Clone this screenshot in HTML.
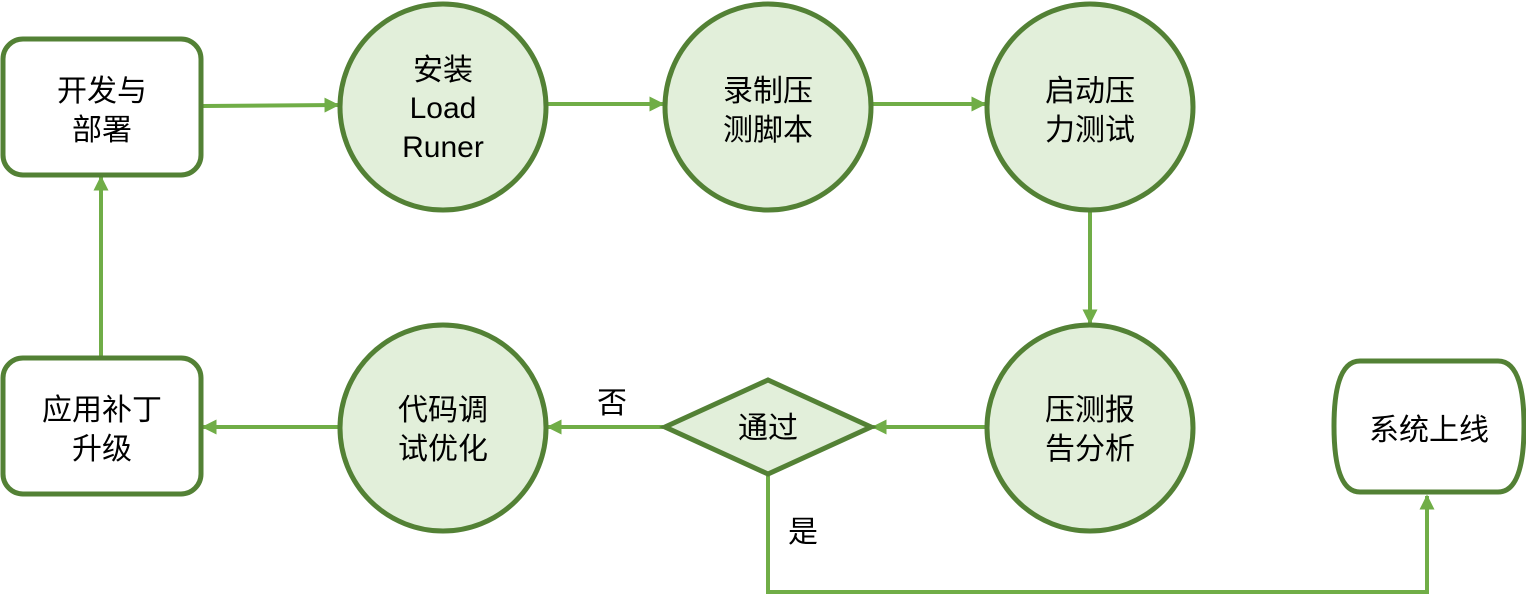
<!DOCTYPE html>
<html><head><meta charset="utf-8"><style>
html,body{margin:0;padding:0;background:#fff;}
text{font-family:"Liberation Sans","Noto Sans CJK SC",sans-serif;font-size:30px;fill:#000;}
</style></head><body>
<svg width="1526" height="596" viewBox="0 0 1526 596" xmlns="http://www.w3.org/2000/svg">
<defs>
<marker id="a" markerWidth="15" markerHeight="15" refX="9" refY="5" orient="auto" markerUnits="userSpaceOnUse" viewBox="0 0 10 10">
<path d="M0,0 L10,5 L0,10 z" fill="#70ad47"/>
</marker>
</defs>
<g stroke="#70ad47" stroke-width="4" fill="none">
<line x1="203" y1="106" x2="338" y2="105" marker-end="url(#a)"/>
<line x1="548" y1="104" x2="663" y2="104" marker-end="url(#a)"/>
<line x1="873" y1="104" x2="985" y2="104" marker-end="url(#a)"/>
<line x1="1090" y1="212" x2="1090" y2="323" marker-end="url(#a)"/>
<line x1="985" y1="427" x2="873" y2="427" marker-end="url(#a)"/>
<line x1="663" y1="427" x2="548" y2="427" marker-end="url(#a)"/>
<line x1="338" y1="427" x2="203" y2="427" marker-end="url(#a)"/>
<line x1="101" y1="356" x2="101" y2="177" marker-end="url(#a)"/>
<polyline points="768,476 768,592 1427,592 1427,496" marker-end="url(#a)"/>
</g>
<g stroke="#538135" stroke-width="5">
<rect x="3" y="39" width="198" height="136" rx="20" fill="#fff"/>
<rect x="3" y="358" width="198" height="136" rx="20" fill="#fff"/>
<circle cx="443" cy="107" r="103" fill="#e2efda"/>
<circle cx="768" cy="107" r="103" fill="#e2efda"/>
<circle cx="1090" cy="107" r="103" fill="#e2efda"/>
<circle cx="1090" cy="428" r="103" fill="#e2efda"/>
<circle cx="443" cy="428" r="103" fill="#e2efda"/>
<polygon points="665,427 768,380 871,427 768,474" fill="#e2efda"/>
<path d="M1360,361 L1498,361 Q1524,361 1524,426 Q1524,492 1498,492 L1360,492 Q1334,492 1334,426 Q1334,361 1360,361 z" fill="#fff"/>
</g>
<g text-anchor="middle">
<text x="102" y="101">开发与</text>
<text x="102" y="140">部署</text>
<text x="443" y="80">安装</text>
<text x="443" y="118">Load</text>
<text x="443" y="157">Runer</text>
<text x="768" y="101">录制压</text>
<text x="768" y="140">测脚本</text>
<text x="1090" y="101">启动压</text>
<text x="1090" y="140">力测试</text>
<text x="1090" y="420">压测报</text>
<text x="1090" y="459">告分析</text>
<text x="443" y="420">代码调</text>
<text x="443" y="459">试优化</text>
<text x="102" y="420">应用补丁</text>
<text x="102" y="459">升级</text>
<text x="768" y="438">通过</text>
<text x="1429" y="440">系统上线</text>
<text x="612" y="413">否</text>
<text x="803" y="542">是</text>
</g>
</svg>
</body></html>
